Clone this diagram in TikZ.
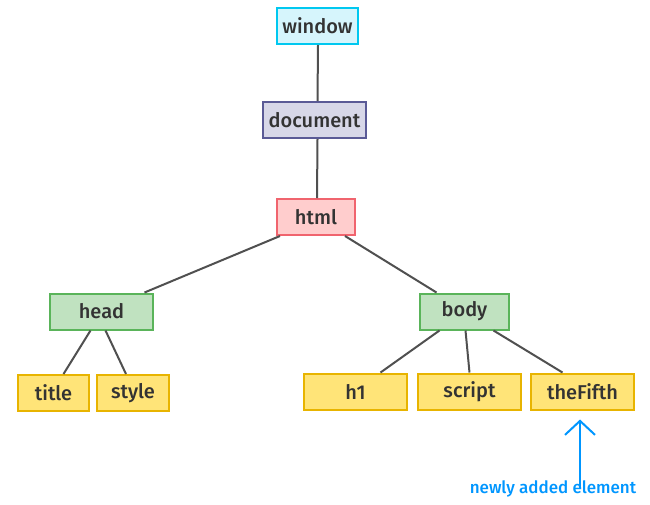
\documentclass[tikz,border=0pt]{standalone}
\usepackage{fontspec}
\setmainfont{Fira Sans Medium}
\usetikzlibrary{calc,arrows.meta}
\definecolor{wfill}{RGB}{214,245,252}
\definecolor{wdraw}{RGB}{0,200,240}
\definecolor{dfill}{RGB}{215,215,232}
\definecolor{ddraw}{RGB}{90,90,150}
\definecolor{hfill}{RGB}{255,205,205}
\definecolor{hdraw}{RGB}{240,100,110}
\definecolor{gfill}{RGB}{192,226,192}
\definecolor{gdraw}{RGB}{90,180,90}
\definecolor{yfill}{RGB}{255,228,120}
\definecolor{ydraw}{RGB}{232,180,0}
\definecolor{linec}{RGB}{80,80,80}
\definecolor{noteblue}{RGB}{0,150,255}
\tikzset{
  box/.style={draw, line width=2pt, minimum height=36pt, inner sep=0pt,
    font=\fontsize{20}{20}\selectfont, text=black!80},
  winbox/.style={box, fill=wfill, draw=wdraw, minimum width=81pt},
  docbox/.style={box, fill=dfill, draw=ddraw, minimum width=103pt},
  htmlbox/.style={box, fill=hfill, draw=hdraw, minimum width=78pt},
  greenbox/.style={box, fill=gfill, draw=gdraw},
  leafbox/.style={box, fill=yfill, draw=ydraw},
  edge/.style={draw=linec, line width=2pt}
}
\begin{document}
\begin{tikzpicture}[x=1pt,y=-1pt]
\useasboundingbox (0,0) rectangle (650,504);
\node[winbox] (window) at (317.5,26) {window};
\node[docbox] (document) at (314.5,120) {document};
\node[htmlbox] (html) at (316,217) {html};
\node[greenbox, minimum width=103pt] (head) at (101.5,311.5) {head};
\node[greenbox, minimum width=89pt] (body) at (464.5,311.5) {body};
\node[leafbox, minimum width=71pt] (title) at (53.5,393) {title};
\node[leafbox, minimum width=72pt] (style) at (133,393) {style};
\node[leafbox, minimum width=103pt] (h1) at (355.5,391.5) {h1};
\node[leafbox, minimum width=103pt] (script) at (469.5,391.5) {script};
\node[leafbox, minimum width=103pt] (fifth) at (582.5,391.5) {theFifth};
\node[text=noteblue, font=\fontsize{17}{17}\selectfont, anchor=center] (note) at (553,489) {newly added element};

\draw[edge] ([xshift=0.5pt]window.south) -- ([xshift=3pt]document.north);
\draw[edge] ([xshift=3pt]document.south) -- ([xshift=1pt]html.north);
\draw[edge] ([xshift=-36pt]html.south) -- ([xshift=43pt]head.north);
\draw[edge] ([xshift=29pt]html.south) -- ([xshift=-28pt]body.north);
\draw[edge] ([xshift=-11pt]head.south) -- ([xshift=10pt]title.north);
\draw[edge] ([xshift=4pt]head.south) -- ([xshift=-7pt]style.north);
\draw[edge] ([xshift=-25pt]body.south) -- ([xshift=25pt]h1.north);
\draw[edge] ([xshift=1pt]body.south) -- ([xshift=0pt]script.north);
\draw[edge] ([xshift=29pt]body.south) -- ([xshift=-20pt]fifth.north);
\draw[noteblue, line width=2pt, -{Straight Barb[length=14pt,width=30pt]}] ([xshift=27pt,yshift=-12pt]note.north) -- ([xshift=-2.5pt,yshift=-9pt]fifth.south);
\end{tikzpicture}
\end{document}
